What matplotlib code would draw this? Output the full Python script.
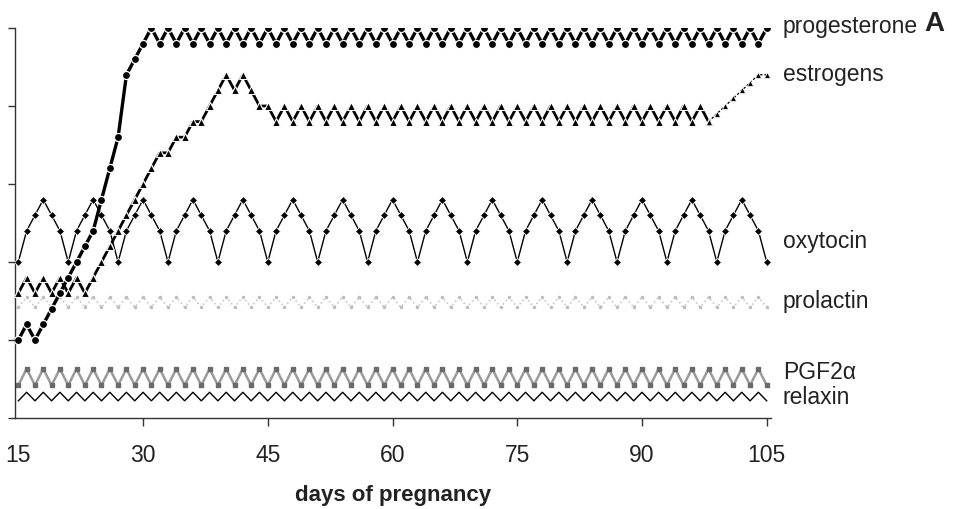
import numpy as np
import matplotlib
matplotlib.use('Agg')
import matplotlib.pyplot as plt

plt.rcParams['font.family'] = ['Liberation Sans', 'DejaVu Sans']

# days 15..105, one value per day
days = list(range(15, 106))

progesterone = [
    1.0, 1.2, 1.0, 1.2, 1.4, 1.6, 1.8, 2.0, 2.2, 2.4,
    2.8, 3.2, 3.6, 4.4, 4.6, 4.8, 5.0, 4.8, 5.0, 4.8,
    5.0, 4.8, 5.0, 4.8, 5.0, 4.8, 5.0, 4.8, 5.0, 4.8,
    5.0, 4.8, 5.0, 4.8, 5.0, 4.8, 5.0, 4.8, 5.0, 4.8,
    5.0, 4.8, 5.0, 4.8, 5.0, 4.8, 5.0, 4.8, 5.0, 4.8,
    5.0, 4.8, 5.0, 4.8, 5.0, 4.8, 5.0, 4.8, 5.0, 4.8,
    5.0, 4.8, 5.0, 4.8, 5.0, 4.8, 5.0, 4.8, 5.0, 4.8,
    5.0, 4.8, 5.0, 4.8, 5.0, 4.8, 5.0, 4.8, 5.0, 4.8,
    5.0, 4.8, 5.0, 4.8, 5.0, 4.8, 5.0, 4.8, 5.0, 4.8,
    5.0,
]

estrogens = [
    1.6, 1.8, 1.6, 1.8, 1.6, 1.8, 1.6, 1.8, 1.6, 1.8,
    2.0, 2.2, 2.4, 2.6, 2.8, 3.0, 3.2, 3.4, 3.4, 3.6,
    3.6, 3.8, 3.8, 4.0, 4.2, 4.4, 4.2, 4.4, 4.2, 4.0,
    4.0, 3.8, 4.0, 3.8, 4.0, 3.8, 4.0, 3.8, 4.0, 3.8,
    4.0, 3.8, 4.0, 3.8, 4.0, 3.8, 4.0, 3.8, 4.0, 3.8,
    4.0, 3.8, 4.0, 3.8, 4.0, 3.8, 4.0, 3.8, 4.0, 3.8,
    4.0, 3.8, 4.0, 3.8, 4.0, 3.8, 4.0, 3.8, 4.0, 3.8,
    4.0, 3.8, 4.0, 3.8, 4.0, 3.8, 4.0, 3.8, 4.0, 3.8,
    4.0, 3.8, 4.0, 3.8, 3.9, 4.0, 4.1, 4.2, 4.3, 4.4,
    4.4,
]

oxytocin = [
    2.0, 2.4, 2.6, 2.8, 2.6, 2.4, 2.0, 2.4, 2.6, 2.8,
    2.6, 2.4, 2.0, 2.4, 2.6, 2.8, 2.6, 2.4, 2.0, 2.4,
    2.6, 2.8, 2.6, 2.4, 2.0, 2.4, 2.6, 2.8, 2.6, 2.4,
    2.0, 2.4, 2.6, 2.8, 2.6, 2.4, 2.0, 2.4, 2.6, 2.8,
    2.6, 2.4, 2.0, 2.4, 2.6, 2.8, 2.6, 2.4, 2.0, 2.4,
    2.6, 2.8, 2.6, 2.4, 2.0, 2.4, 2.6, 2.8, 2.6, 2.4,
    2.0, 2.4, 2.6, 2.8, 2.6, 2.4, 2.0, 2.4, 2.6, 2.8,
    2.6, 2.4, 2.0, 2.4, 2.6, 2.8, 2.6, 2.4, 2.0, 2.4,
    2.6, 2.8, 2.6, 2.4, 2.0, 2.4, 2.6, 2.8, 2.6, 2.4,
    2.0,
]

prolactin = [
    1.42, 1.55, 1.42, 1.55, 1.42, 1.55, 1.42, 1.55, 1.42, 1.55,
    1.42, 1.55, 1.42, 1.55, 1.42, 1.55, 1.42, 1.55, 1.42, 1.55,
    1.42, 1.55, 1.42, 1.55, 1.42, 1.55, 1.42, 1.55, 1.42, 1.55,
    1.42, 1.55, 1.42, 1.55, 1.42, 1.55, 1.42, 1.55, 1.42, 1.55,
    1.42, 1.55, 1.42, 1.55, 1.42, 1.55, 1.42, 1.55, 1.42, 1.55,
    1.42, 1.55, 1.42, 1.55, 1.42, 1.55, 1.42, 1.55, 1.42, 1.55,
    1.42, 1.55, 1.42, 1.55, 1.42, 1.55, 1.42, 1.55, 1.42, 1.55,
    1.42, 1.55, 1.42, 1.55, 1.42, 1.55, 1.42, 1.55, 1.42, 1.55,
    1.42, 1.55, 1.42, 1.55, 1.42, 1.55, 1.42, 1.55, 1.42, 1.55,
    1.42,
]

pgf2a = [
    0.42, 0.63, 0.42, 0.63, 0.42, 0.63, 0.42, 0.63, 0.42, 0.63,
    0.42, 0.63, 0.42, 0.63, 0.42, 0.63, 0.42, 0.63, 0.42, 0.63,
    0.42, 0.63, 0.42, 0.63, 0.42, 0.63, 0.42, 0.63, 0.42, 0.63,
    0.42, 0.63, 0.42, 0.63, 0.42, 0.63, 0.42, 0.63, 0.42, 0.63,
    0.42, 0.63, 0.42, 0.63, 0.42, 0.63, 0.42, 0.63, 0.42, 0.63,
    0.42, 0.63, 0.42, 0.63, 0.42, 0.63, 0.42, 0.63, 0.42, 0.63,
    0.42, 0.63, 0.42, 0.63, 0.42, 0.63, 0.42, 0.63, 0.42, 0.63,
    0.42, 0.63, 0.42, 0.63, 0.42, 0.63, 0.42, 0.63, 0.42, 0.63,
    0.42, 0.63, 0.42, 0.63, 0.42, 0.63, 0.42, 0.63, 0.42, 0.63,
    0.42,
]

relaxin = [
    0.22, 0.33, 0.22, 0.33, 0.22, 0.33, 0.22, 0.33, 0.22, 0.33,
    0.22, 0.33, 0.22, 0.33, 0.22, 0.33, 0.22, 0.33, 0.22, 0.33,
    0.22, 0.33, 0.22, 0.33, 0.22, 0.33, 0.22, 0.33, 0.22, 0.33,
    0.22, 0.33, 0.22, 0.33, 0.22, 0.33, 0.22, 0.33, 0.22, 0.33,
    0.22, 0.33, 0.22, 0.33, 0.22, 0.33, 0.22, 0.33, 0.22, 0.33,
    0.22, 0.33, 0.22, 0.33, 0.22, 0.33, 0.22, 0.33, 0.22, 0.33,
    0.22, 0.33, 0.22, 0.33, 0.22, 0.33, 0.22, 0.33, 0.22, 0.33,
    0.22, 0.33, 0.22, 0.33, 0.22, 0.33, 0.22, 0.33, 0.22, 0.33,
    0.22, 0.33, 0.22, 0.33, 0.22, 0.33, 0.22, 0.33, 0.22, 0.33,
    0.22,
]

series_labels = ['progesterone', 'estrogens', 'oxytocin', 'prolactin', 'PGF2α', 'relaxin']
label_y = [5.03, 4.42, 2.27, 1.5, 0.6, 0.28]
xtick_days = [15, 30, 45, 60, 75, 90, 105]

fig = plt.figure(figsize=(9.59, 5.10), dpi=100)
ax = fig.add_axes([15 / 959, 1 - 419 / 510, (770.7 - 15) / 959, 390 / 510])

ink = '#222222'

ax.plot(days, relaxin, color='black', lw=1.0, zorder=2)
ax.plot(days, pgf2a, color='#9a9a9a', lw=1.8, marker='s', ms=2.2,
        mfc='#6a6a6a', mec='#6a6a6a', zorder=2)
ax.plot(days, prolactin, color='#c8c8c8', lw=1.2, ls=':', marker='.',
        ms=3, mfc='#bdbdbd', mec='#bdbdbd', zorder=2)
ax.plot(days, oxytocin, color='black', lw=1.0, marker='D', ms=4.5,
        mec='white', mew=0.6, zorder=3)

# estrogens: main run, then the thinner tail after day 98
split = days.index(98)
ax.plot(days[:split + 1], estrogens[:split + 1], color='black', lw=2.0,
        marker='^', ms=6, mec='white', mew=0.8, zorder=4)
ax.plot(days[split:], estrogens[split:], color='black', lw=0.9, ls=(0, (2, 1.5)),
        marker='^', ms=4.5, mec='white', mew=0.5, zorder=4)

ax.plot(days, progesterone, color='black', lw=2.4, marker='o', ms=5.8,
        mec='white', mew=0.9, zorder=5)

ax.set_xlim(14.6, 105.48)
ax.set_ylim(0, 5)

for side in ['top', 'right']:
    ax.spines[side].set_visible(False)
for side in ['left', 'bottom']:
    ax.spines[side].set_color('#333333')
    ax.spines[side].set_linewidth(1.0)

ax.set_yticks([0, 1, 2, 3, 4, 5])
ax.set_yticklabels([])
ax.set_xticks(xtick_days)
ax.set_xticklabels([str(d) for d in xtick_days])
ax.tick_params(axis='both', direction='out', colors='#333333', width=1.0)
ax.tick_params(axis='y', length=5)
ax.tick_params(axis='x', length=6, pad=12, labelsize=16.5, labelcolor=ink)
ax.xaxis.get_major_ticks()[0].tick1line.set_visible(False)

ax.set_xlabel('days of pregnancy', fontsize=16, fontweight='bold', color=ink, labelpad=13)

for name, y in zip(series_labels, label_y):
    ax.text(106.95, y, name, fontsize=16.5, color=ink, ha='left', va='center', clip_on=False)
ax.text(124.0, 5.07, 'A', fontsize=20, fontweight='bold', color=ink,
        ha='left', va='center', clip_on=False)

fig.savefig('out.png', dpi=100)
